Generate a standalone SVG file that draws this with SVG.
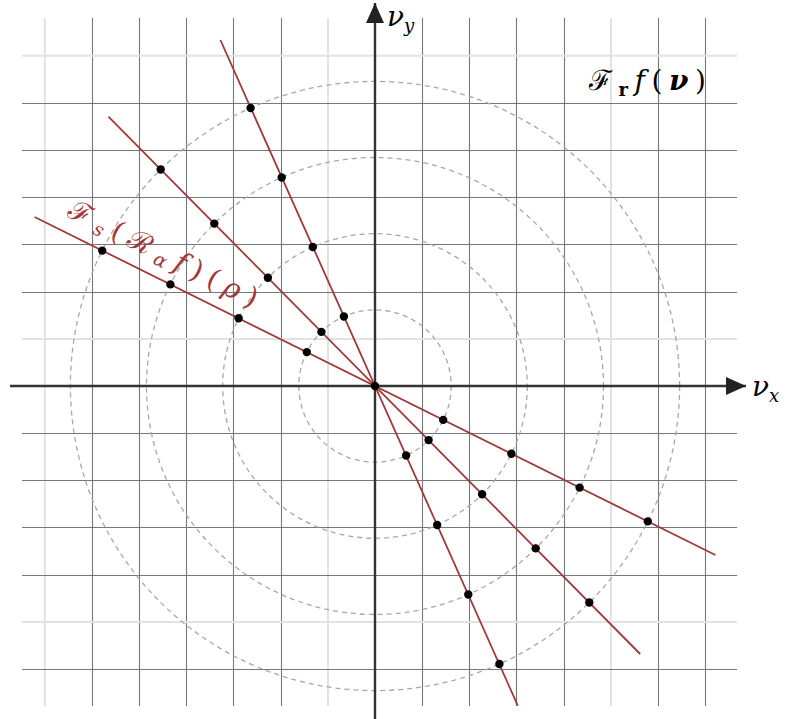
<svg xmlns="http://www.w3.org/2000/svg" width="787" height="719" viewBox="0 0 787 719">
<style>
.g{stroke:#737780;stroke-width:1.1;fill:none}
.gl{stroke:#e2e2e2;stroke-width:2;fill:none}
.ax{stroke:#333;stroke-width:2.4;fill:none}
.c{stroke:#a8a8a8;stroke-width:1.3;fill:none;stroke-dasharray:5 4}
.r{stroke:#a03a3a;stroke-width:1.8;fill:none}
.d{fill:#000}
.t{font-family:"DejaVu Serif","Liberation Serif",serif;font-size:28px}
.i{font-style:italic}
</style>
<defs>
<marker id="ah" viewBox="0 0 20 18" refX="20" refY="9" markerWidth="20" markerHeight="18" markerUnits="userSpaceOnUse" orient="auto">
<path d="M0,0 L20,9 L0,18 Z" fill="#222"/>
</marker>
</defs>
<rect width="787" height="719" fill="#fff"/>
<g id="grid">
<line class="gl" x1="44.8" y1="18" x2="44.8" y2="706"/>
<line class="g" x1="92.5" y1="18" x2="92.5" y2="706"/>
<line class="g" x1="139.5" y1="18" x2="139.5" y2="706"/>
<line class="g" x1="186.5" y1="18" x2="186.5" y2="706"/>
<line class="g" x1="233.5" y1="18" x2="233.5" y2="706"/>
<line class="g" x1="281.5" y1="18" x2="281.5" y2="706"/>
<line class="gl" x1="328" y1="18" x2="328" y2="706"/>
<line class="g" x1="422.5" y1="18" x2="422.5" y2="706"/>
<line class="g" x1="469.5" y1="18" x2="469.5" y2="706"/>
<line class="g" x1="516.5" y1="18" x2="516.5" y2="706"/>
<line class="g" x1="564.5" y1="18" x2="564.5" y2="706"/>
<line class="gl" x1="611" y1="18" x2="611" y2="706"/>
<line class="g" x1="658.5" y1="18" x2="658.5" y2="706"/>
<line class="g" x1="705.5" y1="18" x2="705.5" y2="706"/>
<line class="gl" x1="22" y1="55.8" x2="737" y2="55.8"/>
<line class="g" x1="22" y1="103.5" x2="737" y2="103.5"/>
<line class="g" x1="22" y1="150.5" x2="737" y2="150.5"/>
<line class="g" x1="22" y1="197.5" x2="737" y2="197.5"/>
<line class="g" x1="22" y1="244.5" x2="737" y2="244.5"/>
<line class="g" x1="22" y1="292.5" x2="737" y2="292.5"/>
<line class="gl" x1="22" y1="339" x2="737" y2="339"/>
<line class="g" x1="22" y1="433.5" x2="737" y2="433.5"/>
<line class="g" x1="22" y1="480.5" x2="737" y2="480.5"/>
<line class="g" x1="22" y1="527.5" x2="737" y2="527.5"/>
<line class="g" x1="22" y1="575.5" x2="737" y2="575.5"/>
<line class="gl" x1="22" y1="622" x2="737" y2="622"/>
<line class="g" x1="22" y1="669.5" x2="737" y2="669.5"/>
</g>
<g id="circles">
<circle class="c" cx="375" cy="386" r="76.2"/>
<circle class="c" cx="375" cy="386" r="152.3"/>
<circle class="c" cx="375" cy="386" r="228.5"/>
<circle class="c" cx="375" cy="386" r="304.6"/>
</g>
<g id="axes">
<line class="ax" x1="10" y1="386" x2="746" y2="386" marker-end="url(#ah)"/>
<line class="ax" x1="375" y1="719" x2="375" y2="3" marker-end="url(#ah)"/>
</g>
<g id="connectors">
<line class="r" x1="220.4" y1="40" x2="517.8" y2="705.6"/>
<line class="r" x1="108.4" y1="116.6" x2="640.2" y2="654"/>
<line class="r" x1="34.6" y1="217" x2="715.4" y2="555"/>
</g>
<g id="dots" class="d">
<circle cx="375" cy="386" r="4.2"/>
<circle cx="343.9" cy="316.5" r="4.2"/><circle cx="312.8" cy="247" r="4.2"/><circle cx="281.7" cy="177.5" r="4.2"/><circle cx="250.6" cy="108" r="4.2"/>
<circle cx="406.1" cy="455.5" r="4.2"/><circle cx="437.2" cy="525" r="4.2"/><circle cx="468.3" cy="594.5" r="4.2"/><circle cx="499.4" cy="664" r="4.2"/>
<circle cx="321.4" cy="331.9" r="4.2"/><circle cx="267.9" cy="277.7" r="4.2"/><circle cx="214.3" cy="223.6" r="4.2"/><circle cx="160.7" cy="169.5" r="4.2"/>
<circle cx="428.6" cy="440.1" r="4.2"/><circle cx="482.1" cy="494.3" r="4.2"/><circle cx="535.7" cy="548.4" r="4.2"/><circle cx="589.3" cy="602.5" r="4.2"/>
<circle cx="306.8" cy="352.1" r="4.2"/><circle cx="238.6" cy="318.3" r="4.2"/><circle cx="170.4" cy="284.4" r="4.2"/><circle cx="102.2" cy="250.6" r="4.2"/>
<circle cx="443.2" cy="419.9" r="4.2"/><circle cx="511.4" cy="453.7" r="4.2"/><circle cx="579.6" cy="487.6" r="4.2"/><circle cx="647.8" cy="521.4" r="4.2"/>
</g>
<g id="label-nux"><text class="t i" x="752" y="396">ν<tspan font-size="18" dy="6">x</tspan></text></g>
<g id="label-nuy"><text class="t i" x="387" y="26">ν<tspan font-size="18" dy="6">y</tspan></text></g>
<g id="label-Fr"><text class="t" x="589" y="90" textLength="117" lengthAdjust="spacing">ℱ<tspan font-size="18" font-weight="bold" dy="6">r</tspan><tspan class="i" dy="-6">f</tspan>(<tspan font-weight="bold" class="i">ν</tspan>)</text></g>
<g id="label-Fs"><text class="t" fill="#a03a3a" font-size="30" transform="translate(66,216) rotate(26.4)" textLength="208" lengthAdjust="spacing">ℱ<tspan font-size="19" class="i" dy="4">s</tspan><tspan dy="-4">(ℛ</tspan><tspan font-size="19" class="i" dy="4">α</tspan><tspan class="i" dy="-4">f</tspan>)(<tspan class="i">ρ</tspan>)</text></g>
</svg>
